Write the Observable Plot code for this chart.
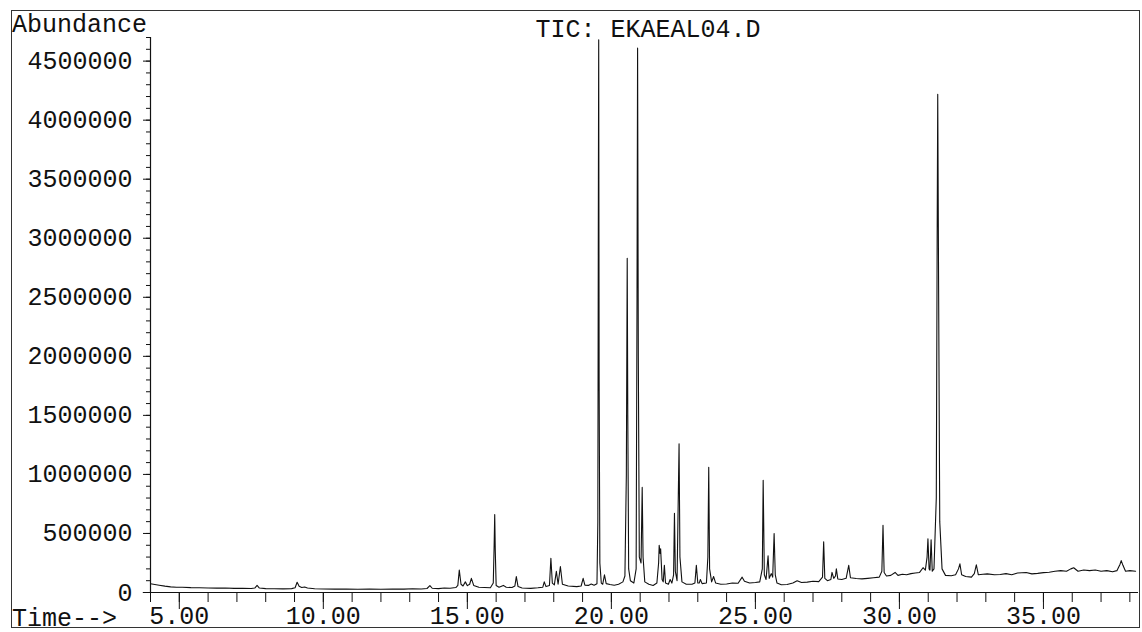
<!DOCTYPE html>
<html><head><meta charset="utf-8">
<script src="https://cdn.jsdelivr.net/npm/d3@7"></script>
<script src="https://cdn.jsdelivr.net/npm/@observablehq/plot@0.6"></script>
<style>html,body{margin:0;padding:0;background:#fff} svg{display:block}</style>
</head><body><div id="chart"></div>
<script>
// Retention time (minutes) and abundance
const time = [
  4.00, 4.15, 4.30, 4.50, 4.70, 4.90, 5.10, 5.40, 5.70, 6.00, 6.30, 6.60, 6.90, 7.20, 7.50, 7.62, 7.70, 7.78,
  8.00, 8.30, 8.60, 8.90, 9.02, 9.09, 9.16, 9.25, 9.35, 9.45, 9.70, 10.00, 10.40, 10.80, 11.20, 11.60, 12.00,
  12.40, 12.80, 13.10, 13.40, 13.60, 13.70, 13.78, 14.00, 14.20, 14.40, 14.60, 14.67, 14.72, 14.78, 14.85,
  14.93, 15.00, 15.08, 15.14, 15.22, 15.40, 15.60, 15.80, 15.90, 15.93, 15.95, 15.97, 16.00, 16.10, 16.25,
  16.35, 16.55, 16.65, 16.70, 16.76, 16.90, 17.20, 17.45, 17.62, 17.67, 17.73, 17.85, 17.90, 17.95, 18.02,
  18.09, 18.15, 18.23, 18.30, 18.50, 18.80, 18.95, 19.02, 19.08, 19.20, 19.30, 19.40, 19.50, 19.53, 19.55,
  19.56, 19.575, 19.60, 19.65, 19.70, 19.76, 19.82, 19.95, 20.10, 20.25, 20.40, 20.47, 20.52, 20.55, 20.57,
  20.60, 20.66, 20.78, 20.86, 20.89, 20.91, 20.935, 20.97, 21.03, 21.07, 21.10, 21.16, 21.30, 21.45, 21.58,
  21.64, 21.66, 21.69, 21.71, 21.76, 21.80, 21.84, 21.88, 21.98, 22.04, 22.10, 22.16, 22.19, 22.22, 22.28,
  22.35, 22.38, 22.45, 22.60, 22.80, 22.90, 22.95, 23.00, 23.05, 23.09, 23.15, 23.30, 23.35, 23.38, 23.41,
  23.48, 23.55, 23.62, 23.80, 24.00, 24.20, 24.40, 24.54, 24.62, 24.80, 25.00, 25.15, 25.24, 25.27, 25.31,
  25.37, 25.44, 25.48, 25.55, 25.60, 25.65, 25.69, 25.75, 25.90, 26.10, 26.30, 26.45, 26.60, 26.80, 27.00,
  27.20, 27.33, 27.37, 27.41, 27.50, 27.62, 27.66, 27.72, 27.78, 27.81, 27.86, 28.00, 28.15, 28.24, 28.30,
  28.50, 28.70, 28.90, 29.10, 29.30, 29.39, 29.43, 29.47, 29.55, 29.70, 29.85, 29.95, 30.10, 30.25, 30.40,
  30.55, 30.70, 30.82, 30.90, 30.96, 30.99, 31.03, 31.06, 31.10, 31.14, 31.20, 31.28, 31.31, 31.33, 31.36,
  31.40, 31.48, 31.60, 31.80, 31.95, 32.05, 32.10, 32.16, 32.30, 32.50, 32.60, 32.67, 32.74, 32.90, 33.05,
  33.30, 33.50, 33.70, 33.90, 34.10, 34.40, 34.60, 34.80, 35.00, 35.20, 35.40, 35.60, 35.80, 35.95, 36.05,
  36.20, 36.40, 36.60, 36.80, 37.00, 37.20, 37.40, 37.55, 37.66, 37.70, 37.76, 37.85, 38.00, 38.20
];
const abundance = [
  74000, 68000, 62000, 54000, 48000, 45000, 44000, 41000, 40000, 38000, 37000, 38000, 35000, 36000, 34000, 38000, 60000, 38000,
  33000, 32000, 31000, 33000, 40000, 87000, 52000, 42000, 47000, 38000, 32000, 30000, 29000, 30000, 28000, 29000, 28000,
  30000, 29000, 32000, 30000, 34000, 58000, 36000, 33000, 38000, 36000, 42000, 60000, 190000, 70000, 55000,
  90000, 58000, 70000, 120000, 60000, 45000, 42000, 40000, 80000, 400000, 660000, 350000, 60000, 45000, 60000,
  44000, 42000, 55000, 135000, 50000, 38000, 35000, 40000, 45000, 90000, 50000, 60000, 290000, 80000, 65000,
  180000, 70000, 220000, 70000, 55000, 50000, 55000, 120000, 62000, 60000, 72000, 62000, 75000, 600000, 3500000,
  4680000, 1800000, 250000, 80000, 70000, 150000, 75000, 68000, 62000, 70000, 90000, 140000, 1000000, 2830000, 1500000,
  200000, 100000, 80000, 200000, 2500000, 4610000, 2000000, 300000, 250000, 890000, 300000, 90000, 70000, 60000, 80000,
  250000, 400000, 330000, 370000, 110000, 90000, 230000, 80000, 70000, 110000, 80000, 150000, 670000, 180000, 100000,
  1260000, 300000, 90000, 70000, 70000, 80000, 230000, 80000, 80000, 110000, 75000, 80000, 300000, 1060000, 200000,
  90000, 135000, 80000, 70000, 72000, 80000, 78000, 130000, 95000, 80000, 85000, 90000, 200000, 950000, 150000,
  110000, 310000, 120000, 160000, 130000, 500000, 150000, 80000, 65000, 68000, 80000, 100000, 85000, 88000, 95000,
  92000, 130000, 430000, 120000, 100000, 110000, 170000, 120000, 140000, 200000, 115000, 110000, 120000, 230000, 125000,
  118000, 115000, 120000, 125000, 130000, 180000, 570000, 170000, 140000, 145000, 170000, 145000, 155000, 150000, 160000,
  165000, 170000, 210000, 190000, 300000, 455000, 200000, 190000, 446000, 180000, 200000, 800000, 3000000, 4220000, 2600000,
  600000, 200000, 145000, 142000, 150000, 200000, 243000, 150000, 135000, 130000, 160000, 235000, 150000, 155000, 158000,
  150000, 152000, 160000, 150000, 165000, 170000, 158000, 162000, 168000, 172000, 180000, 185000, 180000, 200000, 210000,
  180000, 190000, 185000, 190000, 180000, 185000, 175000, 185000, 240000, 270000, 230000, 180000, 185000, 180000
];

const xMajorTicks = [5, 10, 15, 20, 25, 30, 35];
const xTickLabels = ["5.00", "10.00", "15.00", "20.00", "25.00", "30.00", "35.00"];
const xMinorTicks = [4, 5, 6, 7, 8, 9, 10, 11, 12, 13, 14, 15, 16, 17, 18, 19, 20, 21, 22, 23, 24, 25, 26, 27, 28, 29, 30, 31, 32, 33, 34, 35, 36, 37, 38];
const yMajorTicks = [0, 500000, 1000000, 1500000, 2000000, 2500000, 3000000, 3500000, 4000000, 4500000];
const yTickLabels = ["0", "500000", "1000000", "1500000", "2000000", "2500000", "3000000", "3500000", "4000000", "4500000"];
const yMinorStep = 100000;
const xDomain = [4, 38.3];
const yDomain = [0, 4700000];
const chartTitle = "TIC: EKAEAL04.D";
const yLabel = "Abundance";
const xLabel = "Time-->";

const data = time.map((t, i) => ({t, a: abundance[i]}));
const yMinorTicks = d3.range(yDomain[0], yDomain[1] + 1, yMinorStep);
const font = "'Liberation Mono', 'DejaVu Sans Mono', monospace";

const chart = Plot.plot({
  width: 1142, height: 632,
  marginLeft: 150, marginRight: 4, marginTop: 37, marginBottom: 40,
  style: {fontFamily: font, fontSize: "25px", color: "#111", background: "#fff", overflow: "visible"},
  x: {domain: xDomain, label: null},
  y: {domain: yDomain, label: null},
  marks: [
    Plot.axisY({ticks: yMinorTicks, tickSize: 4, text: null, label: null, strokeWidth: 1}),
    Plot.axisY({ticks: yMajorTicks, tickSize: 7, text: null, label: null, strokeWidth: 1}),
    Plot.axisY({ticks: yMajorTicks, tickSize: 0, tickPadding: 18, label: null,
      tickFormat: d => yTickLabels[yMajorTicks.indexOf(d)], fontSize: 25}),
    Plot.axisX({ticks: xMinorTicks, tickSize: 10, text: null, label: null, strokeWidth: 1}),
    Plot.axisX({ticks: xMajorTicks, tickSize: 17, text: null, label: null, strokeWidth: 1}),
    Plot.axisX({ticks: xMajorTicks, tickSize: 0, tickPadding: 14, label: null,
      tickFormat: d => xTickLabels[xMajorTicks.indexOf(d)], fontSize: 25}),
    Plot.ruleX([xDomain[0]], {stroke: "#111", strokeWidth: 1.2}),
    Plot.ruleY([0], {x1: 3.75, x2: xDomain[1], stroke: "#111", strokeWidth: 1.2}),
    Plot.line(data, {x: "t", y: "a", stroke: "#111", strokeWidth: 1.1})
  ]
});

const svg = d3.select(chart);
svg.append("rect")
  .attr("x", 11.5).attr("y", 10.5).attr("width", 1128).attr("height", 617)
  .attr("fill", "none").attr("stroke", "#333").attr("stroke-width", 1);
svg.append("text").text(yLabel)
  .attr("x", 12).attr("y", 32).attr("text-anchor", "start").attr("font-size", 25).attr("fill", "#111");
svg.append("text").text(chartTitle)
  .attr("x", 648).attr("y", 37).attr("text-anchor", "middle").attr("font-size", 25).attr("fill", "#111");
svg.append("text").text(xLabel)
  .attr("x", 12).attr("y", 626).attr("text-anchor", "start").attr("font-size", 25).attr("fill", "#111");

document.getElementById("chart").appendChild(chart);
</script>
</body></html>
